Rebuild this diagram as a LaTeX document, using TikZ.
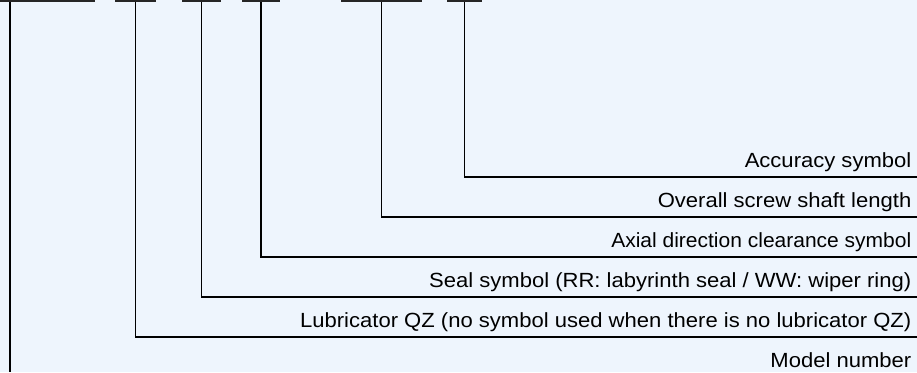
\documentclass[tikz,border=0pt]{standalone}
\usepackage{fontspec}
\setmainfont{Liberation Sans}[FakeStretch=1.075]
\usetikzlibrary{positioning}

\definecolor{paleblue}{RGB}{238,245,253}

\begin{document}
\begin{tikzpicture}[
    x=1pt, y=1pt,
    bar/.style={fill=black!85, inner sep=0pt, minimum height=2pt, anchor=north},
    lead/.style={draw=black, line width=1.1pt},
    desc/.style={font=\fontsize{20.5}{24}\selectfont, inner sep=0pt, anchor=base east}
]

    % Background and frame
    \fill[paleblue] (0,0) rectangle (917,-372);
    \clip (0,0) rectangle (917,-372);

    % Code underlines (top)
    \node[bar, minimum width=170pt] (b1) at (10,0) {};
    \node[bar, minimum width=41pt] (b2) at (135.5,0) {};
    \node[bar, minimum width=39pt] (b3) at (201.5,0) {};
    \node[bar, minimum width=38pt] (b4) at (261,0) {};
    \node[bar, minimum width=81pt] (b5) at (381.5,0) {};
    \node[bar, minimum width=35pt] (b6) at (464.5,0) {};

    % Line ends at the right edge
    \coordinate (e6) at (917,-177);
    \coordinate (e5) at (917,-217);
    \coordinate (e4) at (917,-257);
    \coordinate (e3) at (917,-297);
    \coordinate (e2) at (917,-337);
    \coordinate (e1) at (10,-372);

    % Descriptions
    \node[desc] (l6) at (911.5,-167.5) {Accuracy symbol};
    \node[desc] (l5) at (911.5,-207.5) {Overall screw shaft length};
    \node[desc] (l4) at (911.5,-247.5) {\scalebox{0.953}[1]{Axial direction clearance symbol}};
    \node[desc] (l3) at (911.5,-287.5) {Seal symbol (RR: labyrinth seal / WW: wiper ring)};
    \node[desc] (l2) at (911.5,-327.5) {Lubricator QZ (no symbol used when there is no lubricator QZ)};
    \node[desc] (l1) at (911.5,-367.5) {Model number};

    % Leaders
    \draw[lead] (b6.south) |- (e6);
    \draw[lead] (b5.south) |- (e5);
    \draw[lead] (b4.south) |- (e4);
    \draw[lead] (b3.south) |- (e3);
    \draw[lead] (b2.south) |- (e2);
    \draw[lead] (b1.south) -- (e1);

\end{tikzpicture}
\end{document}
